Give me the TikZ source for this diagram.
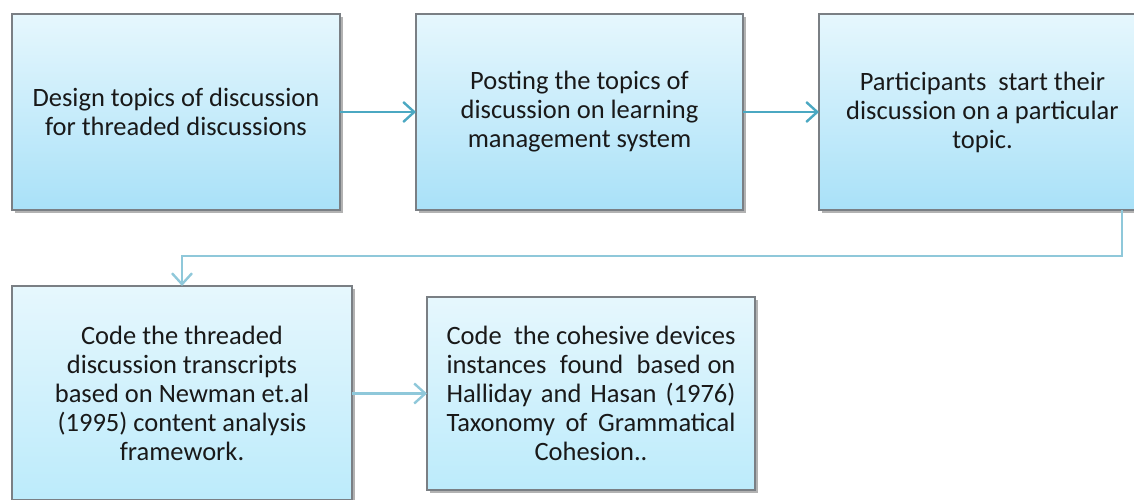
\documentclass[tikz,border=0pt]{standalone}
\usepackage{fontspec}
\setmainfont{Carlito}
\usetikzlibrary{arrows.meta,shadows,calc}
\definecolor{boxtop}{HTML}{E6F7FD}
\definecolor{boxbot}{HTML}{A9E1F8}
\definecolor{boxbotlight}{HTML}{BCEBFB}
\definecolor{boxedge}{HTML}{7A7F84}
\definecolor{arrdark}{HTML}{4BA8C2}
\definecolor{arrlight}{HTML}{8FC8DA}
\tikzset{
  flowbox/.style={draw=boxedge, line width=1.2pt, top color=boxtop, bottom color=boxbot,
    inner sep=0pt, outer sep=0pt, align=center, text=black!90,
    font=\fontsize{26.5}{29}\selectfont,
    drop shadow={shadow xshift=2.5pt, shadow yshift=-3pt, opacity=0.3, fill=black}},
  arrtop/.style={draw=arrdark, line width=2.4pt, -{Straight Barb[length=11pt,width=20pt,line width=2.4pt]}},
  arrbot/.style={draw=arrlight, line width=2.4pt, -{Straight Barb[length=11pt,width=20pt,line width=2.4pt]}}
}
\begin{document}
\begin{tikzpicture}[x=1pt,y=1pt]
\useasboundingbox (0,0) rectangle (1134,-500);
\clip (0,0) rectangle (1134,-500);
\node[flowbox, minimum width=328pt, minimum height=196pt] (b1) at (176,-112)
  {Design topics of discussion\\for threaded discussions};
\node[flowbox, minimum width=327pt, minimum height=196pt] (b2) at (579.5,-112)
  {Posting the topics of\\discussion on learning\\management system};
\node[flowbox, minimum width=327pt, minimum height=196pt] (b3) at (982.5,-112)
  {Participants\ \ start their\\discussion on a particular\\topic.};
\node[flowbox, minimum width=340pt, minimum height=214pt, bottom color=boxbotlight] (b4) at (182,-393)
  {Code the threaded\\discussion transcripts\\based on Newman et.al\\(1995) content analysis\\framework.};
\node[flowbox, minimum width=328pt, minimum height=193pt, bottom color=boxbotlight] (b5) at (591,-393.5)
  {\makebox[289pt][s]{Code\ \ the cohesive devices}\\
   \makebox[289pt][s]{instances\ \ found\ \ based on}\\
   \makebox[289pt][s]{Halliday and Hasan (1976)}\\
   \makebox[289pt][s]{Taxonomy of Grammatical}\\
   Cohesion..};
\coordinate (c1) at (1122,-256);
\draw[arrtop] (b1.east) -- (b2.west);
\draw[arrtop] (b2.east) -- (b3.west);
\draw[arrbot] (b3.south -| c1) -- (c1) -| (b4.north);
\draw[arrbot] (b4.east |- b5.west) -- (b5.west);
\end{tikzpicture}
\end{document}
